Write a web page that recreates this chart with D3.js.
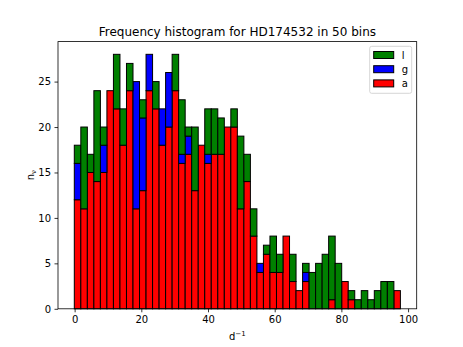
<!doctype html>
<html lang="en">
<head>
    <meta charset="UTF-8">
    <title>Frequency histogram</title>
    <script src="https://cdn.jsdelivr.net/npm/d3@7"></script>
    <style>
        body { margin: 0; background: #fff; }
        svg { display: block; font-family: "DejaVu Sans", sans-serif; }
        .tick text { font-size: 10px; fill: #000; }
    </style>
</head>
<body>
<script>
    // 50 bins from the smallest to the largest value
    var binStart = -0.1;
    var binEnd = 97.7;
    var nBins = 50;

    // counts per bin, stacked bottom to top: a, g, l
    var countsA = [12, 11, 15, 14, 15, 24, 22, 18, 24, 11, 13, 24, 22, 18, 20, 24, 16, 17, 13, 18,
                   16, 17, 17, 20, 20, 11, 14, 8, 4, 6, 4, 4, 8, 3, 2, 3, 0, 0, 0, 1,
                   0, 3, 1, 0, 0, 0, 0, 0, 0, 2];
    var countsG = [4, 0, 0, 0, 3, 0, 0, 0, 0, 14, 8, 4, 0, 4, 6, 0, 1, 2, 0, 0,
                   1, 0, 0, 0, 0, 0, 0, 0, 1, 0, 0, 0, 0, 0, 0, 1, 0, 0, 0, 0,
                   0, 0, 0, 0, 0, 0, 0, 0, 0, 0];
    var countsL = [2, 9, 2, 10, 2, 0, 6, 4, 3, 0, 2, 0, 3, 0, 0, 4, 6, 1, 7, 0,
                   5, 5, 4, 0, 2, 8, 3, 3, 0, 1, 4, 2, 0, 3, 0, 1, 4, 5, 6, 7,
                   5, 0, 1, 1, 2, 1, 2, 3, 3, 0];

    var seriesNames = ["a", "g", "l"];
    var seriesColors = ["red", "blue", "green"];
    var xTicks = [0, 20, 40, 60, 80, 100];
    var yTicks = [0, 5, 10, 15, 20, 25];

    var w = 463, h = 347;
    var padL = 58, padR = 416.7, padT = 41.6, padB = 308.8;

    var binWidth = (binEnd - binStart) / nBins;
    var rows = countsA.map(function (d, i) {
        return {x0: binStart + i * binWidth, x1: binStart + (i + 1) * binWidth,
                a: countsA[i], g: countsG[i], l: countsL[i]};
    });
    var stacked = d3.stack().keys(seriesNames)(rows);

    var span = binEnd - binStart;
    var x = d3.scaleLinear()
        .domain([binStart - 0.05 * span, binEnd + 0.05 * span])
        .range([padL, padR]);
    var yMax = d3.max(rows, function (d) { return d.a + d.g + d.l; }) * 1.05;
    var y = d3.scaleLinear().domain([0, yMax]).range([padB, padT]);

    var svg = d3.select("body").append("svg").attr("width", w).attr("height", h);

    svg.selectAll("g.series")
        .data(stacked)
        .enter()
        .append("g")
        .attr("class", "series")
        .attr("fill", function (d, i) { return seriesColors[i]; })
        .selectAll("rect")
        .data(function (d) { return d; })
        .enter()
        .append("rect")
        .attr("x", function (d) { return x(d.data.x0); })
        .attr("width", function (d) { return x(d.data.x1) - x(d.data.x0); })
        .attr("y", function (d) { return y(d[1]); })
        .attr("height", function (d) { return y(d[0]) - y(d[1]); })
        .attr("stroke", "#000")
        .attr("stroke-width", 1);

    // frame
    svg.append("rect")
        .attr("x", padL).attr("y", padT)
        .attr("width", padR - padL).attr("height", padB - padT)
        .attr("fill", "none").attr("stroke", "#000").attr("stroke-width", 0.8);

    var xAxis = svg.append("g")
        .attr("transform", "translate(0," + padB + ")")
        .call(d3.axisBottom(x).tickValues(xTicks).tickSize(3.5).tickPadding(3.5));
    var yAxis = svg.append("g")
        .attr("transform", "translate(" + padL + ",0)")
        .call(d3.axisLeft(y).tickValues(yTicks).tickSize(3.5).tickPadding(3.5));
    [xAxis, yAxis].forEach(function (ax) {
        ax.select(".domain").remove();
        ax.selectAll(".tick line").attr("stroke", "#000").attr("stroke-width", 0.8);
        ax.attr("font-family", null).attr("font-size", null);
    });

    svg.append("text")
        .attr("x", (padL + padR) / 2).attr("y", 36)
        .attr("text-anchor", "middle")
        .attr("font-size", "12px")
        .text("Frequency histogram for HD174532 in 50 bins");

    var xl = svg.append("text")
        .attr("x", (padL + padR) / 2).attr("y", 340)
        .attr("text-anchor", "middle")
        .attr("font-size", "10px");
    xl.append("tspan").text("d");
    xl.append("tspan").attr("font-size", "7px").attr("dy", -4).text("\u22121");

    var yl = svg.append("text")
        .attr("transform", "translate(34," + (padT + padB) / 2 + ") rotate(-90)")
        .attr("text-anchor", "middle")
        .attr("font-size", "10px");
    yl.append("tspan").text("n");
    yl.append("tspan").attr("font-size", "7px").attr("dy", 2).text("\u03bd");

    // legend, top row is the last series
    var lg = svg.append("g");
    lg.append("rect")
        .attr("x", 369.7).attr("y", 46.3)
        .attr("width", 42).attr("height", 47)
        .attr("rx", 2)
        .attr("fill", "#fff").attr("fill-opacity", 0.8)
        .attr("stroke", "#ccc").attr("stroke-width", 0.8);
    var legendOrder = seriesNames.slice().reverse();
    var items = lg.selectAll("g.item")
        .data(legendOrder)
        .enter()
        .append("g")
        .attr("class", "item")
        .attr("transform", function (d, i) { return "translate(373.7," + (51.5 + i * 14.2) + ")"; });
    items.append("rect")
        .attr("width", 20).attr("height", 7)
        .attr("fill", function (d) { return seriesColors[seriesNames.indexOf(d)]; })
        .attr("stroke", "#000").attr("stroke-width", 1);
    items.append("text")
        .attr("x", 28).attr("y", 7)
        .attr("font-size", "10px")
        .text(function (d) { return d; });
</script>
</body>
</html>
